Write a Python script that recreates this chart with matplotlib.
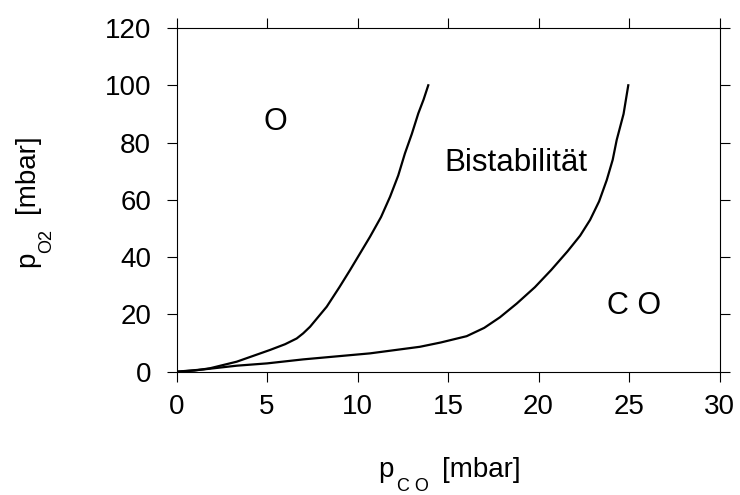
import matplotlib.pyplot as plt

plt.rcParams["font.family"] = ["Liberation Sans", "DejaVu Sans"]

# boundary of the O-covered region (left curve)
o_pco = [0.0, 1.0, 1.85, 3.33, 5.17, 6.0, 6.64, 7.0, 7.38, 8.30, 9.0, 9.59, 10.69,
         11.3, 11.8, 12.25, 12.62, 13.0, 13.36, 13.65, 13.91]
o_po2 = [0.0, 0.4, 1.2, 3.5, 7.6, 9.6, 11.6, 13.4, 15.7, 22.7, 29.5, 35.5, 47.1,
         54.0, 61.1, 68.5, 76.2, 83.0, 90.2, 95.0, 100.0]

# boundary of the CO-covered region (right curve)
co_pco = [0.0, 1.5, 3.33, 5.0, 7.0, 10.69, 13.45, 14.6, 16.03, 17.0, 17.87, 18.8, 19.8,
          20.7, 21.6, 22.3, 22.85, 23.35, 23.77, 24.1, 24.32, 24.7, 24.96]
co_po2 = [0.0, 0.8, 2.1, 2.9, 4.3, 6.4, 8.7, 10.2, 12.4, 15.3, 19.0, 23.8, 29.5,
          35.5, 42.0, 47.5, 53.0, 59.5, 66.9, 74.0, 80.9, 90.0, 100.0]

x_ticks = [0, 5, 10, 15, 20, 25, 30]
y_ticks = [0, 20, 40, 60, 80, 100, 120]

W, H = 740, 495
fig = plt.figure(figsize=(W / 100, H / 100), dpi=100)
ax = fig.add_axes([176.5 / W, 1 - 371.7 / H, 543 / W, 343.7 / H])

ax.plot(o_pco, o_po2, color="black", lw=1.6)
ax.plot(co_pco, co_po2, color="black", lw=1.6)

ax.text(5.44, 87.3, "O", fontsize=22, ha="center", va="center")
ax.text(18.76, 72.7, "Bistabilität", fontsize=22.5, ha="center", va="center")
ax.text(25.28, 22.9, "C O", fontsize=22, ha="center", va="center")

ax.set_xlim(0, 30)
ax.set_ylim(0, 120)
ax.set_xticks(x_ticks)
ax.set_yticks(y_ticks)
ax.tick_params(direction="out", length=7.2, width=0.8, labelsize=20,
               top=True, right=True)
ax.tick_params(axis="x", pad=9)
ax.tick_params(axis="y", pad=11)
for sp in ax.spines.values():
    sp.set_linewidth(0.8)


def px(x, y):
    return x / W, 1 - y / H


# x label: p with lowered subscript "C O"
fig.text(*px(378, 477), "p", fontsize=20, ha="left", va="baseline")
fig.text(*px(397, 491), "C O", fontsize=13, ha="left", va="baseline")
fig.text(*px(442, 477), "[mbar]", fontsize=20, ha="left", va="baseline")

# y label, rotated
rot = dict(rotation=90, rotation_mode="anchor", ha="left", va="baseline")
fig.text(*px(34, 267), "p", fontsize=20, **rot)
fig.text(*px(51, 253), "O2", fontsize=13, **rot)
fig.text(*px(34, 213), "[mbar]", fontsize=20, **rot)

fig.savefig("out.png", dpi=100)
